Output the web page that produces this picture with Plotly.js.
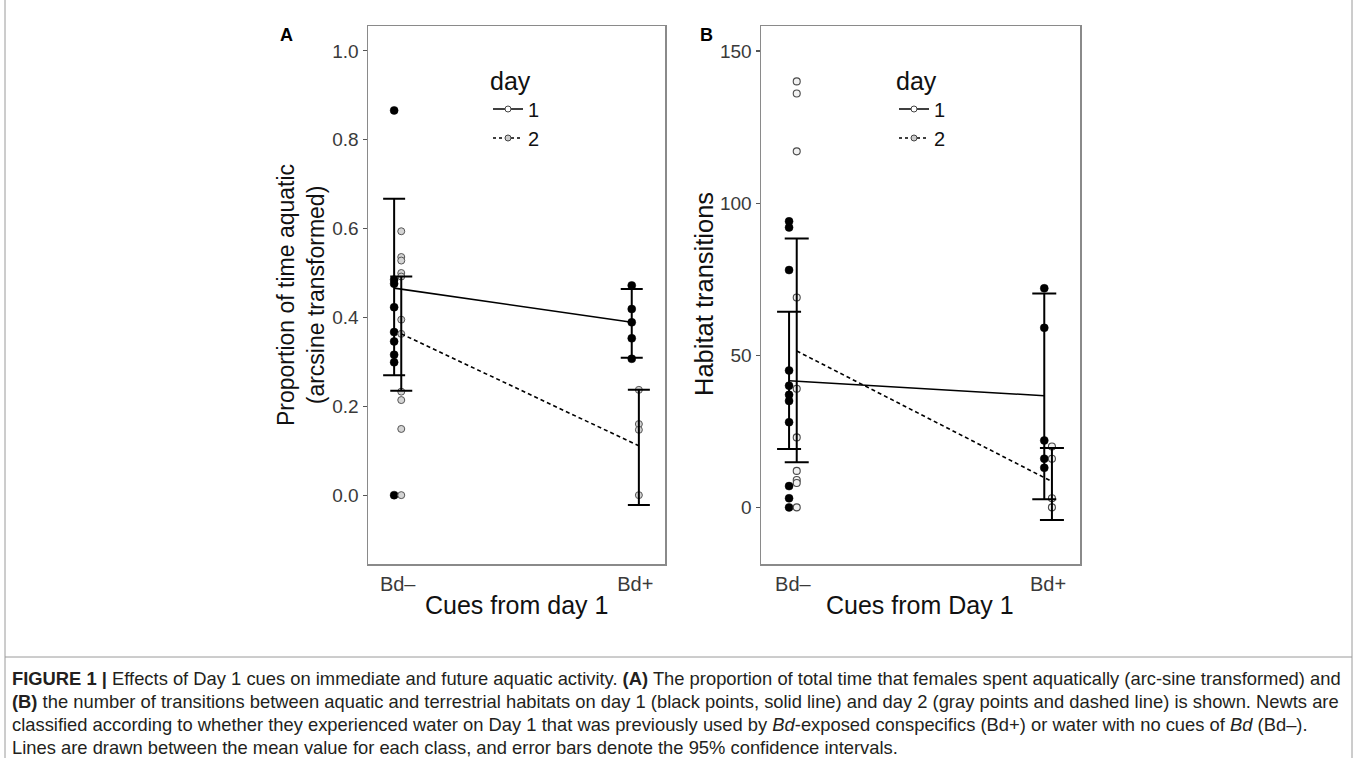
<!DOCTYPE html>
<html><head><meta charset="utf-8">
<script src="https://cdn.plot.ly/plotly-3.0.1.min.js"></script>
<style>html,body{margin:0;padding:0;background:#fff}#chart{width:1357px;height:758px}</style>
</head><body><div id="chart"></div>
<script>
// ---------------- data ----------------
const categories = ['Bd–', 'Bd+'];
const dayLabels = ['1', '2'];

// Panel A: proportion of time aquatic (arcsine transformed)
const aDay1BdMinus = [0.866, 0.485, 0.476, 0.423, 0.367, 0.346, 0.316, 0.299, 0.0];
const aDay2BdMinus = [0.594, 0.536, 0.528, 0.500, 0.492, 0.395, 0.363, 0.233, 0.214, 0.149, 0.0];
const aDay1BdPlus  = [0.472, 0.419, 0.389, 0.353, 0.307];
const aDay2BdPlus  = [0.237, 0.160, 0.147, 0.0];
const aMeanDay1 = [0.466, 0.389];
const aLowDay1  = [0.270, 0.309];
const aHighDay1 = [0.667, 0.464];
const aMeanDay2 = [0.363, 0.111];
const aLowDay2  = [0.235, -0.022];
const aHighDay2 = [0.492, 0.237];
const aTicks = [0.0, 0.2, 0.4, 0.6, 0.8, 1.0];
const aTickText = ['0.0', '0.2', '0.4', '0.6', '0.8', '1.0'];

// Panel B: habitat transitions
const bDay1BdMinus = [94, 92, 78, 45, 40, 37, 35, 28, 7, 3, 0];
const bDay2BdMinus = [140, 136, 117, 69, 39, 23, 12, 9, 8, 0];
const bDay1BdPlus  = [72, 59, 22, 16, 13];
const bDay2BdPlus  = [20, 16, 3, 0];
const bMeanDay1 = [41.6, 36.7];
const bLowDay1  = [19.2, 2.7];
const bHighDay1 = [64.3, 70.3];
const bMeanDay2 = [51.4, 8.5];
const bLowDay2  = [14.8, -4.1];
const bHighDay2 = [88.4, 19.5];
const bTicks = [0, 50, 100, 150];

const captionLines = [
  '<b>FIGURE 1 |</b> Effects of Day 1 cues on immediate and future aquatic activity. <b>(A)</b> The proportion of total time that females spent aquatically (arc-sine transformed) and',
  '<b>(B)</b> the number of transitions between aquatic and terrestrial habitats on day 1 (black points, solid line) and day 2 (gray points and dashed line) is shown. Newts are',
  'classified according to whether they experienced water on Day 1 that was previously used by <i>Bd</i>-exposed conspecifics (Bd+) or water with no cues of <i>Bd</i> (Bd–).',
  'Lines are drawn between the mean value for each class, and error bars denote the 95% confidence intervals.'
];

// ---------------- layout helpers ----------------
const W = 1357, H = 758;
const px = v => v / W;
const py = v => 1 - v / H;
const FONT = '"Liberation Sans", Arial, Helvetica, sans-serif';
const dodge = 0.015;
const day1Marker = {size: 8, color: '#000000', line: {color: '#000000', width: 0.5}};
const day2MarkerA = {size: 7, color: '#d4d4d4', line: {color: '#555555', width: 1}};
const day2MarkerB = {size: 7, color: '#f2f2f2', line: {color: '#4a4a4a', width: 1.1}};

function pointTrace(vals, catIdx, dayIdx, xa, ya) {
  const off = dayIdx === 0 ? -dodge : dodge;
  return {
    type: 'scatter', mode: 'markers', xaxis: xa, yaxis: ya, showlegend: false, hoverinfo: 'y',
    x: vals.map(() => catIdx + 1 + off), y: vals,
    marker: dayIdx === 0 ? day1Marker : (xa === 'x' ? day2MarkerA : day2MarkerB)
  };
}
function meanTrace(mean, low, high, dayIdx, xa, ya, capW) {
  const off = dayIdx === 0 ? -dodge : dodge;
  return {
    type: 'scatter', mode: 'lines', xaxis: xa, yaxis: ya, showlegend: false, hoverinfo: 'y',
    x: categories.map((c, i) => i + 1 + off), y: mean,
    line: {color: '#000', width: 1.6, dash: dayIdx === 0 ? 'solid' : '4px,3px'},
    error_y: {type: 'data', symmetric: false,
      array: high.map((h, i) => h - mean[i]), arrayminus: low.map((l, i) => mean[i] - l),
      color: '#000', thickness: 2, width: capW}
  };
}
function legendTrace(dayIdx, legendId) {
  return {
    type: 'scatter', mode: 'lines+markers', x: [null], y: [null],
    xaxis: legendId === 'legend' ? 'x' : 'x2', yaxis: legendId === 'legend' ? 'y' : 'y2',
    name: dayLabels[dayIdx], legend: legendId, showlegend: true,
    line: {color: '#000', width: 1.5, dash: dayIdx === 0 ? 'solid' : '3px,3px'},
    marker: {size: 6, color: dayIdx === 0 ? '#ffffff' : '#cccccc', line: {color: '#444', width: 1}}
  };
}

const traces = [
  pointTrace(aDay1BdMinus, 0, 0, 'x', 'y'), pointTrace(aDay2BdMinus, 0, 1, 'x', 'y'),
  pointTrace(aDay1BdPlus, 1, 0, 'x', 'y'), pointTrace(aDay2BdPlus, 1, 1, 'x', 'y'),
  meanTrace(aMeanDay1, aLowDay1, aHighDay1, 0, 'x', 'y', 11),
  meanTrace(aMeanDay2, aLowDay2, aHighDay2, 1, 'x', 'y', 11),
  pointTrace(bDay1BdMinus, 0, 0, 'x2', 'y2'), pointTrace(bDay2BdMinus, 0, 1, 'x2', 'y2'),
  pointTrace(bDay1BdPlus, 1, 0, 'x2', 'y2'), pointTrace(bDay2BdPlus, 1, 1, 'x2', 'y2'),
  meanTrace(bMeanDay1, bLowDay1, bHighDay1, 0, 'x2', 'y2', 12),
  meanTrace(bMeanDay2, bLowDay2, bHighDay2, 1, 'x2', 'y2', 12),
  legendTrace(0, 'legend'), legendTrace(1, 'legend'),
  legendTrace(0, 'legend2'), legendTrace(1, 'legend2')
];

const boxTop = 26, boxBottom = 564;
const xBase = {
  range: [0.875, 2.125], tickvals: [1, 2], ticktext: categories, ticks: '',
  showline: true, mirror: true, linecolor: '#8a8a8a', linewidth: 1.5,
  showgrid: false, zeroline: false, ticklabelstandoff: 1,
  tickfont: {family: FONT, size: 20, color: '#3a3a3a'}, fixedrange: true
};
const yBase = {
  ticks: 'outside', ticklen: 4, tickcolor: '#555', tickwidth: 1.2,
  showline: true, mirror: true, linecolor: '#8a8a8a', linewidth: 1.5,
  showgrid: false, zeroline: false,
  tickfont: {family: FONT, size: 19, color: '#3a3a3a'}, fixedrange: true
};

const legendBase = {
  xanchor: 'left', yanchor: 'top', bgcolor: 'rgba(0,0,0,0)', borderwidth: 0,
  font: {family: FONT, size: 20, color: '#111'}, tracegroupgap: 0,
  title: {text: 'day', font: {family: FONT, size: 25, color: '#111'}},
  itemclick: false, itemdoubleclick: false
};

// caption font size fitted to the reference line width of the last line
function fitCaptionSize() {
  const c = document.createElement('canvas').getContext('2d');
  c.font = '100px "Liberation Sans"';
  const plain = captionLines[3].replace(/<[^>]+>/g, '');
  const w = c.measureText(plain).width;
  return Math.max(12, Math.min(20, 100 * 886 / w));
}
const capSize = fitCaptionSize();

function note(text, x, y, size, extra) {
  return Object.assign({text: text, x: px(x), y: py(y), xref: 'paper', yref: 'paper',
    xanchor: 'center', yanchor: 'middle', showarrow: false,
    font: {family: FONT, size: size, color: '#111'}}, extra || {});
}

const annotations = [
  note('<b>A</b>', 286, 35, 18, {font: {family: FONT, size: 18, color: '#000'}}),
  note('<b>B</b>', 706, 35, 18, {font: {family: FONT, size: 18, color: '#000'}}),
  note('Proportion of time aquatic<br>(arcsine transformed)', 301, 295, 23, {textangle: -90}),
  note('Habitat transitions', 704, 294, 25.5, {textangle: -90}),
  note('Cues from day 1', 516, 605, 25),
  note('Cues from Day 1', 920, 605, 25)
];
const capY = [678, 701, 724, 747];
captionLines.forEach((t, i) => annotations.push({
  text: t, x: px(10), y: py(capY[i]), xref: 'paper', yref: 'paper', xanchor: 'left', yanchor: 'middle',
  showarrow: false, align: 'left', font: {family: FONT, size: capSize, color: '#231f20'}
}));

const layout = {
  width: W, height: H, margin: {l: 0, r: 0, t: 0, b: 0},
  paper_bgcolor: '#fff', plot_bgcolor: '#fff',
  font: {family: FONT},
  xaxis: Object.assign({}, xBase, {domain: [px(368), px(665)], anchor: 'y'}),
  yaxis: Object.assign({}, yBase, {domain: [py(boxBottom), py(boxTop)], anchor: 'x',
    range: [-0.155, 1.056], tickvals: aTicks, ticktext: aTickText}),
  xaxis2: Object.assign({}, xBase, {domain: [px(761), px(1080)], anchor: 'y2'}),
  yaxis2: Object.assign({}, yBase, {domain: [py(boxBottom), py(boxTop)], anchor: 'x2',
    range: [-18.6, 158.2], tickvals: bTicks}),
  legend: Object.assign({}, legendBase, {x: px(488), y: py(57)}),
  legend2: Object.assign({}, legendBase, {x: px(894), y: py(57)}),
  annotations: annotations,
  shapes: [
    {type: 'line', xref: 'paper', yref: 'paper', x0: px(5), x1: px(5), y0: 0, y1: 1, line: {color: '#9a9a9a', width: 1}},
    {type: 'line', xref: 'paper', yref: 'paper', x0: px(1352), x1: px(1352), y0: 0, y1: 1, line: {color: '#9a9a9a', width: 1}},
    {type: 'line', xref: 'paper', yref: 'paper', x0: px(5), x1: px(1352), y0: py(657), y1: py(657), line: {color: '#9a9a9a', width: 1}}
  ],
  showlegend: true
};

Plotly.newPlot('chart', traces, layout, {displayModeBar: false, staticPlot: true});
</script>
</body></html>
